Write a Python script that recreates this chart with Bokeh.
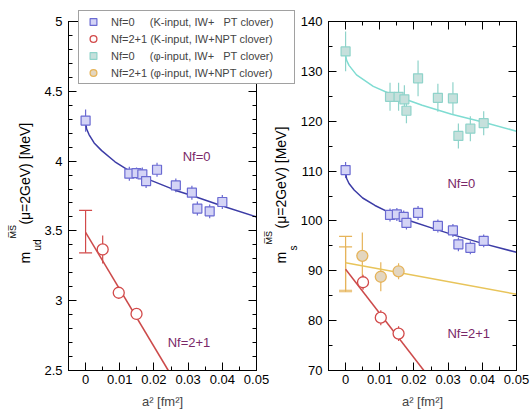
from bokeh.plotting import figure
from bokeh.models import (ColumnDataSource, Whisker, TeeHead, Legend, LegendItem, Label,
                          LinearAxis, FixedTicker, PrintfTickFormatter, CustomJSTickFormatter,
                          Title)
from bokeh.layouts import row, column
from bokeh.embed import file_html
from bokeh.resources import INLINE

FONT = "Liberation Sans"
NB = "\u00a0"

# ---------------- data: left panel (m_ud) ----------------
ud_k0_x = [0.0, 0.0128, 0.0149, 0.0166, 0.0177, 0.0209, 0.0264, 0.0311, 0.0327, 0.0363, 0.0400]
ud_k0_y = [4.29, 3.91, 3.914, 3.905, 3.857, 3.938, 3.826, 3.774, 3.66, 3.64, 3.707]
ud_k0_e = [0.08, 0.05, 0.04, 0.05, 0.05, 0.05, 0.05, 0.05, 0.05, 0.05, 0.05]
ud_k21_x = [0.0050, 0.0097, 0.0149]
ud_k21_y = [3.367, 3.057, 2.905]
ud_k21_e = [0.10, 0.04, 0.04]
ud_k21_cont_x = [0.0]
ud_k21_cont_y = [3.495]
ud_k21_cont_e = [0.152]
ud_fit0_x = [0.0, 0.0003, 0.001, 0.0025, 0.0047, 0.0086, 0.0128, 0.0193, 0.0264, 0.0315, 0.0398, 0.05]
ud_fit0_y = [4.28, 4.23, 4.19, 4.13, 4.075, 3.995, 3.93, 3.86, 3.79, 3.75, 3.68, 3.60]
ud_fit21_x = [0.0, 0.0242]
ud_fit21_y = [3.49, 2.50]

# ---------------- data: right panel (m_s) ----------------
s_k0_x = [0.0, 0.0130, 0.0150, 0.0170, 0.0178, 0.0212, 0.0270, 0.0314, 0.0330, 0.0365, 0.0404]
s_k0_y = [110.2, 101.2, 101.3, 100.8, 99.6, 101.6, 99.0, 98.1, 95.3, 94.6, 96.0]
s_k0_e = [1.6, 1.3, 1.3, 1.3, 1.3, 1.4, 1.3, 1.3, 1.4, 1.3, 1.3]
s_p0_x = [0.0, 0.0130, 0.0155, 0.0172, 0.0178, 0.0212, 0.0270, 0.0314, 0.0330, 0.0365, 0.0404]
s_p0_y = [134.0, 124.9, 124.9, 124.4, 122.1, 128.6, 124.7, 124.6, 117.05, 118.5, 119.6]
s_p0_e = [4.0, 2.8, 2.8, 2.8, 2.5, 3.6, 2.8, 3.2, 2.5, 2.5, 2.4]
s_k21_x = [0.0051, 0.0103, 0.0155]
s_k21_y = [87.7, 80.6, 77.4]
s_k21_e = [1.5, 1.5, 1.5]
s_p21_x = [0.0049, 0.0103, 0.0155]
s_p21_y = [93.0, 88.8, 89.9]
s_p21_e = [4.7, 2.9, 1.6]
s_k21_cont_x = [0.0]
s_k21_cont_y = [90.3]
s_k21_cont_e = [4.5]
s_p21_cont_x = [0.0]
s_p21_cont_y = [91.5]
s_p21_cont_e = [5.4]
s_fit_k0_x = [0.0, 0.0003, 0.001, 0.0025, 0.005, 0.0086, 0.013, 0.019, 0.026, 0.032, 0.04, 0.05]
s_fit_k0_y = [109.8, 108.5, 107.5, 106.2, 104.6, 103.1, 101.6, 100.0, 98.4, 97.1, 95.5, 93.7]
s_fit_p0_x = [0.0, 0.0003, 0.001, 0.0032, 0.0081, 0.013, 0.0224, 0.031, 0.0404, 0.05]
s_fit_p0_y = [133.3, 132.2, 131.2, 129.3, 127.0, 125.5, 123.2, 121.4, 119.8, 118.0]
s_fit_k21_x = [0.0, 0.0229]
s_fit_k21_y = [90.3, 70.0]
s_fit_p21_x = [0.0, 0.05]
s_fit_p21_y = [91.6, 85.3]

# ticks
x_major = [0.0, 0.01, 0.02, 0.03, 0.04, 0.05]
x_minor = [-0.005, 0.005, 0.015, 0.025, 0.035, 0.045]
ud_major = [2.5, 3.0, 3.5, 4.0, 4.5, 5.0]
ud_minor = [round(2.5 + 0.1 * i, 2) for i in range(26)]
s_major = [70, 80, 90, 100, 110, 120, 130, 140]
s_minor = [70 + 5 * i for i in range(15)]

legend_labels = [
    "Nf=0" + NB * 5 + "(K-input, IW+" + NB * 3 + "PT clover)",
    "Nf=2+1 (K-input, IW+NPT clover)",
    "Nf=0" + NB * 5 + "(\u03c6-input, IW+" + NB * 3 + "PT clover)",
    "Nf=2+1 (\u03c6-input, IW+NPT clover)",
]

# colours
BLUE_E, BLUE_F, BLUE_L = "#6a6ad2", "#d4d4f6", "#3c3ca6"
RED_E, RED_L = "#d24a4a", "#cc4a4a"
CYAN_E, CYAN_F, CYAN_L = "#8fd3ca", "#c6e0dc", "#7fdcd2"
ORA_E, ORA_F, ORA_L = "#e6b45a", "#e3d6c0", "#e8c45a"
TXT = "#7a2868"

FH = 349
FW = 188
XR = (-0.005, 0.05)
UDR = (2.5, 5.0)
SR = (70.0, 140.0)


def make_fig(yr, mbr, ymaj, ymin, margin=None):
    kw = {}
    if margin is not None:
        kw["margin"] = margin
    p = figure(frame_width=FW, frame_height=FH, x_range=XR, y_range=yr,
               output_backend="svg", toolbar_location=None,
               x_axis_location=None, y_axis_location=None,
               min_border_left=68, min_border_right=mbr, min_border_top=21,
               min_border_bottom=39, **kw)
    p.grid.visible = False
    p.outline_line_color = "black"
    p.outline_line_width = 1
    p.background_fill_color = "white"
    p.border_fill_color = None
    xt = FixedTicker(ticks=x_major, minor_ticks=x_minor)
    yt = FixedTicker(ticks=ymaj, minor_ticks=ymin)
    fmt = PrintfTickFormatter(format="%g")
    blank = CustomJSTickFormatter(code="return ''")
    bottom = LinearAxis(ticker=xt, formatter=fmt, axis_label="a\u00b2 [fm\u00b2]",
                        axis_label_text_font=FONT, axis_label_text_font_size="13px",
                        axis_label_text_font_style="normal", axis_label_standoff=7,
                        major_label_standoff=4)
    left = LinearAxis(ticker=yt, formatter=fmt, major_label_standoff=6)
    top = LinearAxis(ticker=xt, formatter=blank, major_label_standoff=0)
    right = LinearAxis(ticker=yt, formatter=blank, major_label_standoff=0)
    p.add_layout(bottom, "below")
    p.add_layout(left, "left")
    p.add_layout(top, "above")
    p.add_layout(right, "right")
    for ax in (bottom, left, top, right):
        ax.major_tick_in = 8
        ax.major_tick_out = 0
        ax.minor_tick_in = 4
        ax.minor_tick_out = 0
        ax.axis_line_color = "black"
        ax.major_tick_line_color = "black"
        ax.minor_tick_line_color = "black"
        ax.major_label_text_font = FONT
        ax.major_label_text_color = "black"
        ax.major_label_text_font_size = "13px"
    return p


def whisk(p, x, y, e, color, caps=False):
    src = ColumnDataSource(dict(x=x, lo=[a - b for a, b in zip(y, e)], hi=[a + b for a, b in zip(y, e)]))
    if caps:
        uh = TeeHead(size=13, line_color=color, line_width=1.2)
        lh = TeeHead(size=13, line_color=color, line_width=1.2)
    else:
        uh = None
        lh = None
    w = Whisker(source=src, base="x", lower="lo", upper="hi", line_color=color,
                line_width=1.2, upper_head=uh, lower_head=lh)
    p.add_layout(w)


def ytitle(p, text, size, offset):
    p.add_layout(Title(text=text, align="left", offset=offset, standoff=-3,
                       vertical_align="bottom", text_font=FONT, text_font_size=size,
                       text_font_style="normal", text_color="black"), "left")


# ---------------- left figure ----------------
p1 = make_fig(UDR, 16, ud_major, ud_minor)

whisk(p1, ud_k0_x, ud_k0_y, ud_k0_e, BLUE_E)
whisk(p1, ud_k21_x, ud_k21_y, ud_k21_e, RED_E)
whisk(p1, ud_k21_cont_x, ud_k21_cont_y, ud_k21_cont_e, RED_E, caps=True)
p1.line(ud_fit0_x, ud_fit0_y, line_color=BLUE_L, line_width=1.5)
p1.line(ud_fit21_x, ud_fit21_y, line_color=RED_L, line_width=1.5)
p1.scatter(ud_k0_x, ud_k0_y, marker="square", size=9, fill_color=BLUE_F,
           line_color=BLUE_E, line_width=1.2)
p1.scatter(ud_k21_x, ud_k21_y, marker="circle", size=11, fill_color="white",
           line_color=RED_E, line_width=1.3)

p1.add_layout(Label(x=0.0284, y=4.03, text="Nf=0", text_font=FONT, text_font_size="13px",
                    text_color=TXT, text_baseline="middle"))
p1.add_layout(Label(x=0.0240, y=2.70, text="Nf=2+1", text_font=FONT, text_font_size="13px",
                    text_color=TXT, text_baseline="middle"))

ytitle(p1, "ud", "10px", 120)
ytitle(p1, "m" + NB * 7 + "(\u03bc=2GeV) [MeV]", "14px", 107)
ytitle(p1, "M\u0305S\u0305", "9px", 132)

# ---------------- right figure ----------------
p2 = make_fig(SR, 15, s_major, s_minor, margin=(0, 0, 0, -12))

whisk(p2, s_p0_x, s_p0_y, s_p0_e, CYAN_E)
whisk(p2, s_k0_x, s_k0_y, s_k0_e, BLUE_E)
whisk(p2, s_p21_x, s_p21_y, s_p21_e, ORA_E)
whisk(p2, s_k21_x, s_k21_y, s_k21_e, RED_E)
whisk(p2, s_p21_cont_x, s_p21_cont_y, s_p21_cont_e, ORA_E, caps=True)
whisk(p2, s_k21_cont_x, s_k21_cont_y, s_k21_cont_e, ORA_E, caps=True)
p2.line(s_fit_p0_x, s_fit_p0_y, line_color=CYAN_L, line_width=1.5)
p2.line(s_fit_k0_x, s_fit_k0_y, line_color=BLUE_L, line_width=1.5)
p2.line(s_fit_p21_x, s_fit_p21_y, line_color=ORA_L, line_width=1.5)
p2.line(s_fit_k21_x, s_fit_k21_y, line_color=RED_L, line_width=1.5)
p2.scatter(s_p0_x, s_p0_y, marker="square", size=9, fill_color=CYAN_F, line_color=CYAN_E, line_width=1.2)
p2.scatter(s_k0_x, s_k0_y, marker="square", size=9, fill_color=BLUE_F, line_color=BLUE_E, line_width=1.2)
p2.scatter(s_p21_x, s_p21_y, marker="circle", size=11, fill_color=ORA_F, line_color=ORA_E, line_width=1.3)
p2.scatter(s_k21_x, s_k21_y, marker="circle", size=11, fill_color="white", line_color=RED_E, line_width=1.3)

p2.add_layout(Label(x=0.0298, y=107.6, text="Nf=0", text_font=FONT, text_font_size="13px",
                    text_color=TXT, text_baseline="middle"))
p2.add_layout(Label(x=0.0298, y=77.5, text="Nf=2+1", text_font=FONT, text_font_size="13px",
                    text_color=TXT, text_baseline="middle"))

ytitle(p2, "s", "10px", 120)
ytitle(p2, "m" + NB * 6 + "(\u03bc=2GeV) [MeV]", "14px", 107)
ytitle(p2, "M\u0305S\u0305", "9px", 126)

# ---------------- legend overlay ----------------
p3 = figure(width=230, height=80, output_backend="svg", toolbar_location=None,
            x_axis_location=None, y_axis_location=None, min_border=0,
            margin=(-405, 0, 0, 70))
p3.grid.visible = False
p3.outline_line_color = None
p3.background_fill_color = None
p3.border_fill_color = None
g0 = p3.scatter(ud_k0_x, ud_k0_y, marker="square", size=9, fill_color=BLUE_F,
                line_color=BLUE_E, line_width=1.2, visible=False)
g1 = p3.scatter(ud_k21_x, ud_k21_y, marker="circle", size=11, fill_color="white",
                line_color=RED_E, line_width=1.3, visible=False)
g2 = p3.scatter(s_p0_x, s_p0_y, marker="square", size=9, fill_color=CYAN_F,
                line_color=CYAN_E, line_width=1.2, visible=False)
g3 = p3.scatter(s_p21_x, s_p21_y, marker="circle", size=11, fill_color=ORA_F,
                line_color=ORA_E, line_width=1.3, visible=False)
legend = Legend(items=[LegendItem(label=legend_labels[0], renderers=[g0]),
                       LegendItem(label=legend_labels[1], renderers=[g1]),
                       LegendItem(label=legend_labels[2], renderers=[g2]),
                       LegendItem(label=legend_labels[3], renderers=[g3])],
                location=(8, 2), label_text_font=FONT, label_text_font_size="11px",
                border_line_color="#444444", border_line_width=1, padding=2, spacing=0,
                label_height=17, glyph_height=17, glyph_width=24, label_standoff=6,
                margin=0, label_width=181, background_fill_color="white",
                background_fill_alpha=1.0, inactive_fill_alpha=0.0)
p3.add_layout(legend, "center")

layout = column(row(p1, p2), p3)
open("out.html", "w").write(file_html(layout, INLINE))
